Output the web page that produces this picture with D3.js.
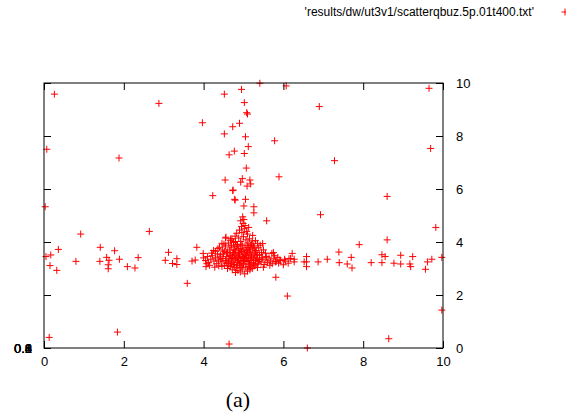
<!DOCTYPE html>
<html>
<head>
<meta charset="utf-8">
<script src="https://cdn.jsdelivr.net/npm/d3@7"></script>
<style>
  html, body { margin: 0; padding: 0; background: #fff; }
  svg { display: block; }
  .tick text { font-family: "Liberation Sans", Helvetica, Arial, sans-serif; font-size: 13px; fill: #000; }
</style>
</head>
<body>
<svg id="chart" width="566" height="419"></svg>
<script>
// Scattered points away from the central cluster
const scatterPoints = [
  [0.26,9.58],[2.88,9.23],[3.97,8.50],[4.52,9.58],[4.73,8.35],[4.90,8.48],[4.52,8.08],[0.07,7.50],
  [1.88,7.17],[4.77,7.43],[4.64,7.29],[4.54,6.34],[4.73,5.94],[4.23,5.75],[4.79,5.58],[0.03,5.33],
  [5.41,9.99],[4.95,9.76],[5.02,9.26],[5.08,8.88],[5.10,8.83],[5.78,7.82],[5.05,7.97],[5.12,7.60],
  [5.02,7.34],[5.07,6.79],[5.89,6.46],[4.97,6.39],[4.93,6.26],[5.16,6.34],[5.18,6.19],[5.09,6.11],
  [4.74,5.96],[4.78,5.61],[5.05,5.61],[5.01,5.36],[5.26,5.33],
  [6.07,9.89],[9.65,9.80],[6.90,9.11],[9.69,7.53],[7.28,7.07],[8.60,5.72],
  [5.26,5.10],[5.58,4.80],[6.93,5.03],[9.82,4.55],[7.90,3.90],[8.60,4.08],[0.92,4.30],[2.64,4.40],
  [0.36,3.72],[0.17,3.51],[0.05,3.45],[0.15,3.11],[0.32,2.93],[0.80,3.27],[1.41,3.80],[1.40,3.27],
  [1.57,3.42],[1.63,3.31],[1.61,3.14],[1.61,2.99],[1.77,3.67],[1.89,3.35],[2.09,3.07],[2.28,3.02],
  [2.36,3.41],[3.04,3.31],[3.12,3.61],[3.22,3.19],[3.33,3.37],[3.33,3.15],[3.59,2.44],[3.71,3.28],
  [3.79,3.32],[3.83,3.80],[3.99,3.57],[4.06,3.07],[4.36,3.75],[4.55,4.15],[4.68,4.12],
  [0.13,0.40],[1.84,0.60],[4.64,0.15],[8.64,0.35],[6.60,0.00],[9.97,1.43],[6.10,1.96],[5.81,2.67],
  [7.39,3.62],[7.70,3.42],[7.40,3.22],[7.60,3.17],[7.72,3.02],[8.20,3.22],[8.47,3.52],[8.55,3.45],
  [8.47,3.22],[8.77,3.20],[8.94,3.50],[8.94,3.17],[9.17,3.17],[9.19,3.07],[9.24,3.45],[9.56,2.97],
  [9.61,3.25],[9.72,3.35],[9.97,3.42],[6.87,3.25],[7.10,3.35],[6.58,3.45],[6.58,3.25],[6.58,3.07],
  [6.22,3.57],[6.27,3.25],[6.27,3.35],[6.03,3.35],[5.91,3.32],[5.88,3.20],[5.75,3.60],[6.00,3.14],
  [5.80,3.25],[6.52,3.25],[5.71,3.57],[6.14,3.37]
];

// Dense cluster around x = 5, y = 3.4
const clusterPoints = [
  [4.98,4.95],[4.93,4.80],[4.99,4.70],[5.13,4.55],[4.95,4.58],[5.04,4.62],[5.01,4.85],[4.90,4.45],
  [5.08,4.40],[4.96,4.36],[5.02,4.50],[5.10,4.30],
  [4.83,4.33],[4.56,4.18],[4.71,4.12],[5.23,4.25],[4.68,4.05],[4.79,4.22],[4.88,4.15],[5.00,4.20],
  [5.15,4.12],[5.30,4.05],[5.35,3.95],[4.62,3.96],[4.75,3.98],[4.93,4.02],[5.06,4.08],[5.20,3.92],
  [4.85,3.90],[5.11,3.96],[4.51,3.92],[5.42,3.88],
  [4.40,3.80],[4.47,3.70],[4.55,3.85],[4.60,3.62],[4.66,3.78],[4.72,3.55],[4.77,3.70],[4.82,3.82],
  [4.87,3.60],[4.92,3.74],[4.97,3.86],[5.02,3.58],[5.07,3.69],[5.12,3.80],[5.17,3.62],[5.22,3.74],
  [5.27,3.55],[5.32,3.68],[5.38,3.78],[5.45,3.60],[5.50,3.70],[4.30,3.65],[4.50,3.55],[4.64,3.50],
  [4.90,3.52],[5.05,3.50],[5.20,3.50],[5.40,3.52],[5.55,3.58],[4.35,3.55],[4.25,3.68],[4.80,3.66],
  [4.95,3.64],[5.10,3.62],[4.70,3.88],[5.25,3.85],
  [4.00,3.40],[4.05,3.30],[4.10,3.45],[4.12,3.22],[4.18,3.35],[4.22,3.48],[4.26,3.28],[4.30,3.40],
  [4.33,3.18],[4.37,3.32],[4.41,3.44],[4.44,3.25],[4.48,3.38],[4.52,3.12],[4.55,3.30],[4.58,3.45],
  [4.61,3.20],[4.64,3.36],[4.67,3.08],[4.70,3.28],[4.73,3.42],[4.76,3.15],[4.79,3.33],[4.82,3.02],
  [4.85,3.24],[4.88,3.40],[4.91,3.10],[4.94,3.30],[4.97,3.46],[5.00,3.18],[5.03,3.36],[5.06,3.05],
  [5.09,3.26],[5.12,3.42],[5.15,3.14],[5.18,3.32],[5.21,3.22],[5.24,3.44],[5.27,3.10],[5.30,3.30],
  [5.33,3.40],[5.36,3.18],[5.40,3.34],[5.44,3.24],[5.48,3.42],[5.52,3.15],[5.56,3.32],[5.60,3.22],
  [5.64,3.40],[5.68,3.28],[5.72,3.18],[5.76,3.36],[5.82,3.26],[5.86,3.42],[5.93,3.30],[6.05,3.28],
  [6.12,3.20],[6.18,3.38],[4.15,3.12],[4.28,3.05],[4.46,3.08],[4.60,3.00],[4.72,2.95],[4.86,2.92],
  [4.98,2.98],[5.10,2.90],[5.22,3.00],[5.35,3.04],[5.50,3.05],[4.80,2.85],[5.03,2.80],[4.92,2.87],
  [5.16,2.95],
  [4.68,3.48],[4.78,3.50],[4.84,3.46],[5.00,3.42],[5.08,3.48],[5.14,3.55],[4.74,3.22],[4.90,3.20],
  [5.04,3.26],[4.62,3.28],[5.26,3.36],[4.84,3.12],[4.96,3.14],[5.12,3.08],[4.58,3.60],[5.30,3.62],
  [4.88,3.75],[5.04,3.78],[4.76,3.85],[5.18,3.86],
  [4.69,3.38],[4.81,3.38],[4.93,3.37],[5.07,3.38],[5.19,3.40],[4.75,3.60],[4.99,3.70],[5.15,3.70],
  [4.87,3.30],[5.01,3.30],[5.13,3.30],[4.63,3.12],[5.25,3.18],[4.42,3.52],[4.52,3.65],[5.35,3.50],
  [4.20,3.58],[4.38,3.10],[5.58,3.45],[5.66,3.12],[4.66,3.70],[5.28,3.78],[4.94,3.92],[5.09,3.88],
  [4.80,4.02],[5.22,4.04],[4.43,3.36],[5.46,3.36],[4.57,3.20],[5.38,3.26],[4.77,3.05],[5.18,3.05],
  [4.94,3.04],[4.70,3.18],[5.31,3.14],[4.08,3.18],[5.78,3.48],[4.46,3.95],[5.48,3.94],[4.90,3.58]
];

const xTicks = [0, 2, 4, 6, 8, 10];
const yTicks = [0, 2, 4, 6, 8, 10];
// Degenerate left axis: every label falls on the same spot
const leftLabels = ["0", "0.2", "0.4", "0.6", "0.8", "1"];
const legendLabel = "'results/dw/ut3v1/scatterqbuz.5p.01t400.txt'";
const caption = "(a)";

const svg = d3.select("#chart");
const x = d3.scaleLinear().domain([0, 10]).range([44, 443]);
const y = d3.scaleLinear().domain([0, 10]).range([348, 83]);
const red = "#ff0000";

// Plus-sign marker path
const plus = (s) => `M${-s},0H${s}M0,${-s}V${s}`;

// Points
const allPoints = scatterPoints.concat(clusterPoints);
svg.append("g")
  .selectAll("path")
  .data(allPoints)
  .join("path")
  .attr("transform", d => `translate(${x(d[0])},${y(d[1])})`)
  .attr("d", plus(3.5))
  .attr("stroke", red)
  .attr("stroke-width", 1)
  .attr("fill", "none");

// Axes with inward ticks
const tickLen = 7;
const gB = svg.append("g").attr("transform", `translate(0,${y(0)})`)
  .call(d3.axisBottom(x).tickValues(xTicks).tickSizeInner(-tickLen).tickSizeOuter(0).tickPadding(9).tickFormat(d3.format("d")));
const gT = svg.append("g").attr("transform", `translate(0,${y(10)})`)
  .call(d3.axisTop(x).tickValues(xTicks).tickSizeInner(-tickLen).tickSizeOuter(0).tickFormat(""));
const gR = svg.append("g").attr("transform", `translate(${x(10)},0)`)
  .call(d3.axisRight(y).tickValues(yTicks).tickSizeInner(-tickLen).tickSizeOuter(0).tickPadding(13).tickFormat(d3.format("d")));
const gL = svg.append("g").attr("transform", `translate(${x(0)},0)`)
  .call(d3.axisLeft(y).tickValues(yTicks).tickSizeInner(-tickLen).tickSizeOuter(0).tickFormat(""));

[gB, gT, gR, gL].forEach(g => {
  g.select(".domain").remove();
  g.selectAll(".tick line").attr("stroke", "#000").attr("stroke-width", 1);
});

// Frame
svg.append("rect")
  .attr("x", x(0)).attr("y", y(10))
  .attr("width", x(10) - x(0)).attr("height", y(0) - y(10))
  .attr("fill", "none").attr("stroke", "#000").attr("stroke-width", 1);

// Left labels stacked on the bottom row
svg.append("g")
  .selectAll("text")
  .data(leftLabels)
  .join("text")
  .attr("x", 32).attr("y", y(0))
  .attr("dy", "0.35em")
  .attr("text-anchor", "end")
  .attr("font-family", "Liberation Sans, Helvetica, Arial, sans-serif")
  .attr("font-size", 13)
  .text(d => d);

// Key
svg.append("text")
  .attr("x", 534).attr("y", 16)
  .attr("text-anchor", "end")
  .attr("font-family", "Liberation Sans, Helvetica, Arial, sans-serif")
  .attr("font-size", 12)
  .text(legendLabel);
svg.append("path")
  .attr("transform", "translate(565,12)")
  .attr("d", plus(3.5))
  .attr("stroke", red).attr("stroke-width", 1).attr("fill", "none");

// Caption
svg.append("text")
  .attr("x", 238).attr("y", 407)
  .attr("text-anchor", "middle")
  .attr("font-family", "Liberation Serif, Times New Roman, serif")
  .attr("font-size", 22)
  .text(caption);
</script>
</body>
</html>
